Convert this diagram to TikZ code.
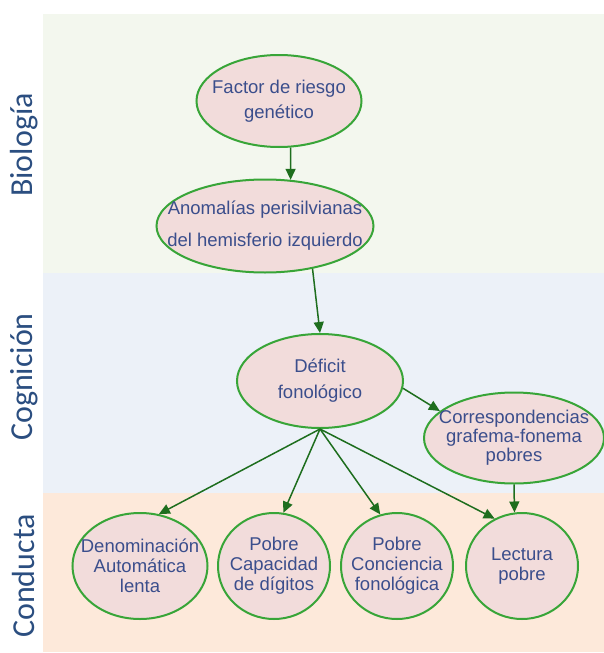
\documentclass[tikz,border=0pt]{standalone}
\usepackage{fontspec}
\setmainfont{Liberation Sans}
\newfontfamily\bandfont{Carlito}
\usetikzlibrary{arrows.meta,shapes.geometric,positioning}
\definecolor{biocol}{HTML}{F3F7EE}
\definecolor{cogcol}{HTML}{ECF1F8}
\definecolor{concol}{HTML}{FDE9DA}
\definecolor{nodefill}{HTML}{F2DCDB}
\definecolor{nodeline}{HTML}{38A538}
\definecolor{arrowcol}{HTML}{1E6E1E}
\definecolor{textcol}{HTML}{3B4E8C}
\definecolor{bandtext}{HTML}{2B4E80}

\begin{document}
\begin{tikzpicture}[x=1pt,y=-1pt,>={Triangle[length=11pt,width=10pt]},
                    line width=1.5pt]
  \tikzstyle{idea}=[ellipse,draw=nodeline,fill=nodefill,line width=2pt,inner sep=0pt]
  \tikzstyle{ideatext}=[text=textcol,align=center,inner sep=0pt]
  \tikzstyle{band}=[rotate=90,text=bandtext,font=\bandfont\fontsize{32}{36}\selectfont]

  \useasboundingbox (0,0) rectangle (604,653);
  % bands
  \fill[biocol] (43,14)  rectangle (604,273);
  \fill[cogcol] (43,273) rectangle (604,493);
  \fill[concol] (43,493) rectangle (604,652);

  \node[band] (bio) at (24,145) {Biología};
  \node[band] (cog) at (24,377) {Cognición};
  \node[band] (con) at (24,576) {Conducta};

  \node[idea,minimum width=165,minimum height=92,
        label={[ideatext,font=\fontsize{18.5}{25}\selectfont]center:Factor de riesgo\\genético}]
       (fac)  at (279,101) {};
  \node[idea,minimum width=217,minimum height=93,
        label={[ideatext,font=\fontsize{18.5}{32}\selectfont]center:Anomalías perisilvianas\\del hemisferio izquierdo}]
       (anom) at (265,226) {};
  \node[idea,minimum width=166,minimum height=94,
        label={[ideatext,font=\fontsize{18.5}{26}\selectfont]center:Déficit\\fonológico}]
       (def)  at (320,381) {};
  \node[idea,minimum width=180,minimum height=91,
        label={[ideatext,font=\fontsize{18.5}{19}\selectfont]center:Correspondencias\\grafema-fonema\\pobres}]
       (corr) at (514,438) {};

  \node[idea,minimum width=135,minimum height=106,
        label={[ideatext,font=\fontsize{18.5}{20}\selectfont]center:Denominación\\Automática\\lenta}]
       (den)  at (140,566) {};
  \node[idea,minimum width=112,minimum height=106,
        label={[ideatext,font=\fontsize{18.5}{20}\selectfont]center:Pobre\\Capacidad\\de dígitos}]
       (cap)  at (274,566) {};
  \node[idea,minimum width=112,minimum height=106,
        label={[ideatext,font=\fontsize{18.5}{20}\selectfont]center:Pobre\\Conciencia\\fonológica}]
       (conc) at (397,566) {};
  \node[idea,minimum width=112,minimum height=106,
        label={[ideatext,font=\fontsize{18.5}{20}\selectfont]center:Lectura\\pobre}]
       (lec)  at (522,566) {};

  \path[->,arrowcol]
        (fac.-76)  edge (anom.61)
        (anom.-42) edge (def.north)
        (def.-5)   edge (corr.160)
        (def.south) edge (den.70)
                    edge (cap.80)
                    edge (conc.108)
                    edge (lec.120)
        (corr.south) edge (lec.98);
\end{tikzpicture}
\end{document}
